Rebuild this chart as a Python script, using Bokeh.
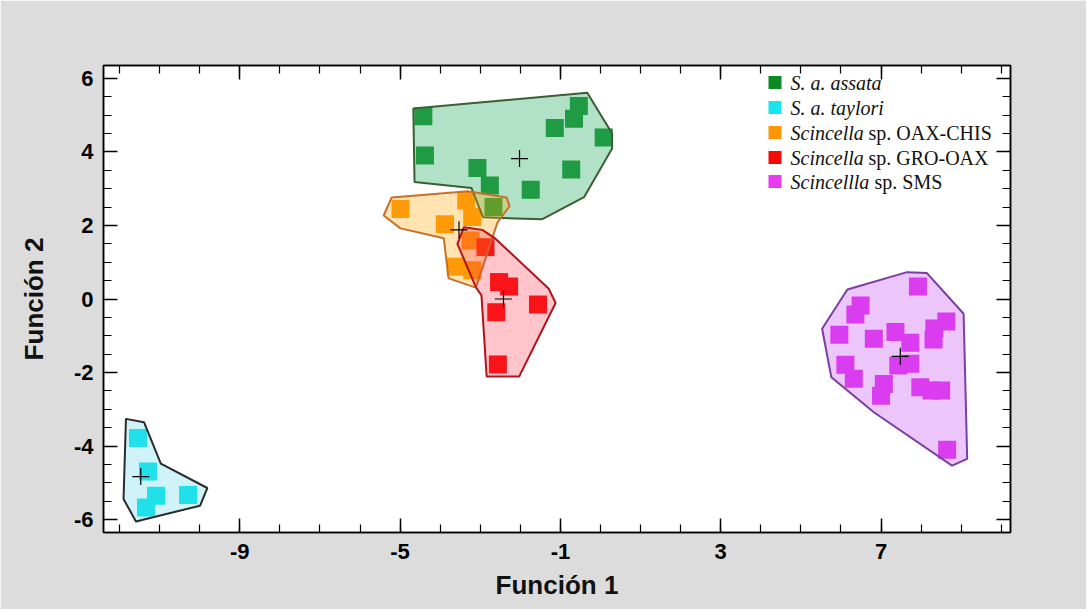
from bokeh.plotting import figure
from bokeh.models import Range1d, FixedTicker, LinearAxis, BoxAnnotation, Label
from bokeh.embed import file_html
from bokeh.resources import INLINE

# ---------------- data ----------------
assata_x = [-4.42, -4.38, -3.07, -2.76, -2.67, -1.74, -1.14, -0.66, -0.54, -0.73, 0.08]
assata_y = [4.97, 3.90, 3.56, 3.09, 2.50, 2.97, 4.65, 4.90, 5.25, 3.52, 4.39]
taylori_x = [-11.54, -11.29, -11.09, -11.34, -10.29]
taylori_y = [-3.78, -4.69, -5.35, -5.67, -5.33]
oaxchis_x = [-4.99, -3.88, -3.35, -3.20, -3.24, -3.61, -3.20]
oaxchis_y = [2.45, 2.03, 2.68, 2.23, 1.59, 0.88, 0.78]
groax_x = [-2.87, -2.53, -2.28, -2.60, -1.56, -2.56]
groax_y = [1.41, 0.46, 0.34, -0.36, -0.15, -1.78]
sms_x = [7.92, 6.49, 6.36, 5.96, 6.82, 7.36, 7.73, 8.63, 8.33, 8.31, 6.11, 6.32,
         7.43, 7.73, 7.07, 7.00, 7.98, 8.26, 8.50, 8.65]
sms_y = [0.34, -0.18, -0.42, -0.97, -1.08, -0.90, -1.19, -0.61, -0.80, -1.10, -1.79, -2.17,
         -1.81, -1.76, -2.31, -2.63, -2.40, -2.49, -2.49, -4.10]

centroid_x = [-2.02, -11.47, -3.53, -2.42, 7.48]
centroid_y = [3.82, -4.83, 1.88, 0.00, -1.56]

assata_hull_x = [-4.67, -0.33, 0.29, 0.29, -0.41, -1.45, -2.93, -3.22, -4.64]
assata_hull_y = [5.18, 5.61, 4.50, 4.09, 2.77, 2.17, 2.22, 3.02, 3.18]
taylori_hull_x = [-11.84, -11.39, -10.97, -9.81, -9.99, -11.59, -11.90]
taylori_hull_y = [-3.26, -3.35, -4.48, -5.14, -5.62, -6.05, -5.44]
oaxchis_hull_x = [-5.41, -5.21, -3.31, -2.34, -2.27, -2.57, -3.11, -3.79, -3.91, -4.99]
oaxchis_hull_y = [2.27, 2.76, 2.93, 2.76, 2.52, 2.08, 0.31, 0.56, 1.65, 1.92]
groax_hull_x = [-3.41, -2.95, -2.62, -1.29, -1.12, -2.03, -2.84, -2.97, -3.11, -3.57]
groax_hull_y = [1.95, 1.88, 1.64, 0.28, -0.11, -2.11, -2.11, 0.10, 0.32, 1.50]
sms_hull_x = [6.16, 7.65, 8.14, 9.06, 9.15, 8.77, 6.82, 5.76, 5.53]
sms_hull_y = [0.26, 0.73, 0.71, -0.40, -4.35, -4.53, -3.08, -2.13, -0.81]

legend_italic = ["S. a. assata", "S. a. taylori", "Scincella", "Scincella", "Scincellla"]
legend_regular = ["", "", "sp. OAX-CHIS", "sp. GRO-OAX", "sp. SMS"]

x_major = [-9, -5, -1, 3, 7]
x_minor = list(range(-12, 11))
y_major = [-6, -4, -2, 0, 2, 4, 6]
y_minor = [k * 0.5 for k in range(-12, 13)]

# ---------------- styles ----------------
point_colors = ["#0b8a26", "#16e6ea", "#fd9608", "#f50a0a", "#e63bef"]
fill_colors = ["#3cb371", "#40d0e8", "#ffa500", "#ff3040", "#c040f0"]
fill_alphas = [0.4, 0.25, 0.3, 0.28, 0.3]
edge_colors = ["#3b5f32", "#2a2a2a", "#c8702a", "#b3131b", "#7a3fa0"]

groups = [
    (assata_x, assata_y, assata_hull_x, assata_hull_y),
    (taylori_x, taylori_y, taylori_hull_x, taylori_hull_y),
    (oaxchis_x, oaxchis_y, oaxchis_hull_x, oaxchis_hull_y),
    (groax_x, groax_y, groax_hull_x, groax_hull_y),
    (sms_x, sms_y, sms_hull_x, sms_hull_y),
]

p = figure(frame_width=907, frame_height=467,
           x_range=Range1d(-12.4, 10.23), y_range=Range1d(-6.35, 6.35),
           output_backend="svg", toolbar_location=None,
           min_border_left=103, min_border_top=65, min_border_right=76, min_border_bottom=77,
           background_fill_color="white", border_fill_color="#dcdcdc",
           outline_line_color="black", outline_line_width=1.5)
p.grid.visible = False

# points first
for (gx, gy, hx, hy), c in zip(groups, point_colors):
    p.scatter(gx, gy, marker="square", size=18, fill_color=c, line_color=None)

# translucent polygons
for (gx, gy, hx, hy), fc, fa, ec in zip(groups, fill_colors, fill_alphas, edge_colors):
    p.patch(hx, hy, fill_color=fc, fill_alpha=fa, line_color=ec, line_width=2)

# centroids
p.scatter(centroid_x, centroid_y, marker="cross", size=17, line_color="black", line_width=1.2)

FONT = "Liberation Sans"

def style_axis(ax, show_labels):
    ax.axis_line_color = "black"
    ax.axis_line_width = 1.5
    ax.major_tick_in = 14
    ax.major_tick_out = 0
    ax.minor_tick_in = 8
    ax.minor_tick_out = 0
    ax.major_tick_line_color = "black"
    ax.minor_tick_line_color = "black"
    ax.major_tick_line_width = 1.5
    ax.minor_tick_line_width = 1.2
    ax.major_label_text_font = FONT
    ax.major_label_text_font_style = "bold"
    ax.major_label_text_font_size = "22px"
    ax.major_label_text_color = "black" if show_labels else None

xt = FixedTicker(ticks=x_major, minor_ticks=x_minor)
yt = FixedTicker(ticks=y_major, minor_ticks=y_minor)

p.xaxis.ticker = xt
p.yaxis.ticker = yt
for ax in p.xaxis + p.yaxis:
    style_axis(ax, True)
p.xaxis.major_label_overrides = {v: str(v) for v in x_major}
p.yaxis.major_label_overrides = {v: str(v) for v in y_major}
p.xaxis.major_label_standoff = 11
p.yaxis.major_label_standoff = 10
p.xaxis.axis_label = "Función 1"
p.yaxis.axis_label = "Función 2"
for ax in p.xaxis + p.yaxis:
    ax.axis_label_text_font = FONT
    ax.axis_label_text_font_style = "bold"
    ax.axis_label_text_font_size = "26px"
    ax.axis_label_text_color = "#111111"
p.xaxis.axis_label_standoff = 8
p.yaxis.axis_label_standoff = 22

top = LinearAxis(ticker=xt)
style_axis(top, False)
p.add_layout(top, "above")
right = LinearAxis(ticker=yt)
style_axis(right, False)
p.add_layout(right, "right")

# legend (screen units relative to frame bottom-left)
row_y = [450, 425, 400, 375, 351]
reg_offset = [0, 0, 78, 78, 84]
for i in range(5):
    yc = row_y[i]
    p.add_layout(BoxAnnotation(left=665, right=678, bottom=yc - 6.5, top=yc + 6.5,
                               left_units="screen", right_units="screen",
                               bottom_units="screen", top_units="screen",
                               fill_color=point_colors[i], fill_alpha=1.0, line_color=None))
    p.add_layout(Label(x=687, y=yc, x_units="screen", y_units="screen",
                       text=legend_italic[i], text_font="Liberation Serif",
                       text_font_style="italic", text_font_size="20px",
                       text_baseline="middle", text_align="left", text_color="#111111"))
    if legend_regular[i]:
        p.add_layout(Label(x=687 + reg_offset[i], y=yc, x_units="screen", y_units="screen",
                           text=legend_regular[i], text_font="Liberation Serif",
                           text_font_size="20px",
                           text_baseline="middle", text_align="left", text_color="#111111"))

open("out.html", "w").write(file_html(p, INLINE))
